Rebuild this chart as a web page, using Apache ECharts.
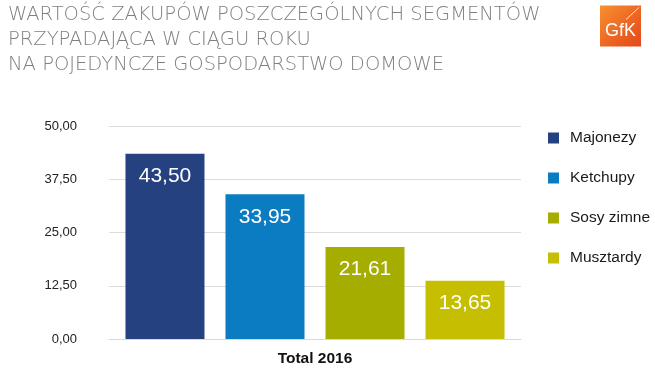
<!DOCTYPE html>
<html>
<head>
<meta charset="utf-8">
<script src="https://cdn.jsdelivr.net/npm/echarts@6/dist/echarts.min.js"></script>
<style>
html,body{margin:0;padding:0;background:#fff;}
#c{width:655px;height:371px;}
</style>
</head>
<body>
<div id="c"></div>
<script>
const titleLines = ['WARTOŚĆ ZAKUPÓW POSZCZEGÓLNYCH SEGMENTÓW', 'PRZYPADAJĄCA W CIĄGU ROKU', 'NA POJEDYNCZE GOSPODARSTWO DOMOWE'];
const categories = ['Total 2016'];
const seriesNames = ['Majonezy', 'Ketchupy', 'Sosy zimne', 'Musztardy'];
const values = [43.50, 33.95, 21.61, 13.65];
const colors = ['#25417f', '#0b7cc2', '#a4ad00', '#c6be00'];
const yTicks = [0, 12.5, 25, 37.5, 50];

const fmt = v => Number(v).toFixed(2).replace('.', ',');

const chart = echarts.init(document.getElementById('c'));
chart.setOption({
  animation: false,
  backgroundColor: '#fff',
  textStyle: { fontFamily: 'Liberation Sans, Arial, sans-serif' },
  grid: { left: 109, right: 134, top: 126, bottom: 32 },
  legend: {
    orient: 'vertical',
    left: 543, top: 125,
    itemWidth: 11, itemHeight: 11, itemGap: 24,
    icon: 'rect',
    data: seriesNames,
    textStyle: { fontSize: 15.5, color: '#1a1a1a', lineHeight: 15, padding: [0, 0, 0, 6] }
  },
  xAxis: {
    type: 'category',
    data: categories,
    axisLine: { show: true, lineStyle: { color: '#d9d9d9' } },
    axisTick: { show: false },
    axisLabel: { fontSize: 15.5, fontWeight: 'bold', color: '#111', margin: 12 }
  },
  yAxis: {
    type: 'value',
    min: yTicks[0], max: yTicks[yTicks.length - 1], interval: yTicks[1] - yTicks[0],
    axisLine: { show: false },
    axisTick: { show: false },
    splitLine: { lineStyle: { color: '#dcdcdc' } },
    axisLabel: { fontSize: 13, color: '#222', margin: 32, formatter: v => fmt(v) }
  },
  graphic: [
    ...titleLines.map((t, i) => ({
      type: 'text', left: 8, top: 5 + i * 25,
      style: { text: t, fill: '#808080', font: '200 19.5px "DejaVu Sans"' }
    })),
    {
      type: 'group', left: 600, top: 5,
      children: [
        { type: 'rect', shape: { x: 0, y: 0, width: 41, height: 41 },
          style: { fill: new echarts.graphic.LinearGradient(0, 0, 1, 1, [
            { offset: 0, color: '#f7912f' }, { offset: 0.5, color: '#ee6a24' }, { offset: 1, color: '#e4471a' }]) } },
        { type: 'line', shape: { x1: 26, y1: 14, x2: 39, y2: 2 }, style: { stroke: '#fff', lineWidth: 1, opacity: 0.8 } },
        { type: 'text', style: { text: 'GfK', x: 20.5, y: 26, fill: '#fff', font: '18px "Liberation Sans Narrow", "Liberation Sans", sans-serif', align: 'center', verticalAlign: 'middle' } }
      ]
    }
  ],
  series: seriesNames.map((name, i) => ({
    name: name,
    type: 'bar',
    barWidth: 79,
    barGap: '26.6%',
    itemStyle: { color: colors[i] },
    label: {
      show: true, position: 'insideTop', distance: 12,
      color: '#fff', fontSize: 21,
      formatter: p => fmt(p.value)
    },
    data: [values[i]]
  }))
});
</script>
</body>
</html>
